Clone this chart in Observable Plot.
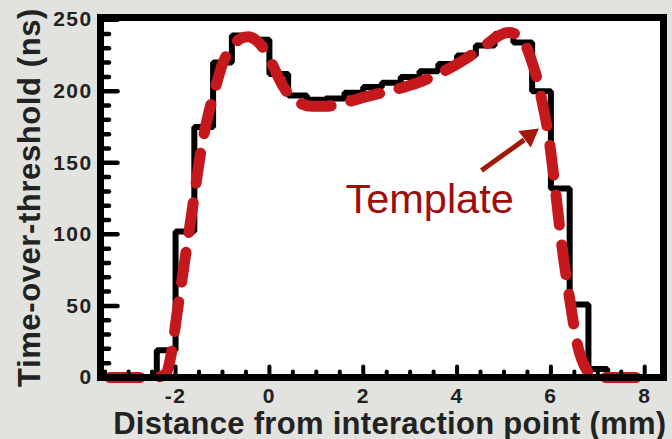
<!DOCTYPE html>
<html>
<head>
<meta charset="utf-8">
<script src="https://cdn.jsdelivr.net/npm/d3@7"></script>
<script src="https://cdn.jsdelivr.net/npm/@observablehq/plot@0.6"></script>
<style>
  html, body { margin: 0; padding: 0; background: #e2e2de; }
  #chart { width: 672px; height: 439px; }
  #chart svg { display: block; overflow: visible; }
  #chart g[aria-label="x-axis tick label"] text,
  #chart g[aria-label="y-axis tick label"] text { letter-spacing: 1.4px; }
</style>
</head>
<body>
<div id="chart"></div>
<script>
// Measured time-over-threshold, one value per 0.4 mm bin (left bin edges in mm)
const binLeft = [-2.4, -2.0, -1.6, -1.2, -0.8, -0.4, 0.0, 0.4, 0.8, 1.2, 1.6, 2.0,
                 2.4, 2.8, 3.2, 3.6, 4.0, 4.4, 4.8, 5.2, 5.6, 6.0, 6.4, 6.8];
const binTot  = [19, 102, 175, 220, 239, 236, 212, 197, 194, 195, 199, 203,
                 206, 210, 214, 219, 225, 232, 240, 234, 200, 132, 51, 6];
const binLastRight = 7.2;

// Template pulse shape (ns vs mm)
const templateX   = [-3.4, -2.6, -2.35, -2.2, -2.125, -1.95, -1.78, -1.61, -1.445, -1.3, -1.185, -1.0, -0.9,
                     -0.75, -0.6, -0.45, -0.3, -0.15, 0.0, 0.13, 0.3, 0.5, 0.7, 0.9, 1.2, 1.6, 2.04, 2.6,
                     3.17, 3.6, 4.2, 4.6, 4.9, 5.1, 5.3, 5.45, 5.58, 5.71, 5.83, 5.94, 6.085, 6.215, 6.385,
                     6.58, 6.75, 6.9, 7.05, 8.1];
const templateTot = [0, 0, 0.5, 3, 11, 49, 87, 125, 161, 184, 198, 219, 226,
                     233, 237, 238, 236, 231, 223, 214, 203, 195, 191, 189.5, 189.5, 192, 196, 200.5,
                     206, 212, 223, 232, 239, 241, 239, 233, 222, 208, 190, 171, 134, 97, 58,
                     21, 6, 1, 0, 0];

// Axis ticks
const xTicksMajor = [-2, 0, 2, 4, 6, 8];
const xTicksMinor = [-3.5, -3, -2.5, -1.5, -1, -0.5, 0.5, 1, 1.5, 2.5, 3, 3.5, 4.5, 5, 5.5, 6.5, 7, 7.5];
const yTicksMajor = [0, 50, 100, 150, 200, 250];
const yTicksMinor = [10, 20, 30, 40, 60, 70, 80, 90, 110, 120, 130, 140, 160, 170, 180, 190, 210, 220, 230, 240];

// Labels and annotation
const xTitle = "Distance from interaction point (mm)";
const yTitle = "Time-over-threshold (ns)";
const templateLabel = [{text: "Template", x: 1.62, tot: 115}];
const arrowTail = [{x: 4.52, tot: 144.6}];
const arrowBase = [{x: 5.43, tot: 166}];
const arrowHead = [{x: 5.54, tot: 169}];

const histogram = [{x: -3.6, tot: 0}]
  .concat(binLeft.map((x, i) => ({x, tot: binTot[i]})))
  .concat([{x: binLastRight, tot: 0}, {x: 8.4, tot: 0}]);
const template = templateX.map((x, i) => ({x, tot: templateTot[i]}));

const tickShape = {draw(context, l) { context.moveTo(0, 0); context.lineTo(0, -l); }};
const fontFamily = "Liberation Sans, Arial, Helvetica, sans-serif";
const ink = "#222";

const chart = Plot.plot({
  width: 672,
  height: 439,
  marginLeft: 100,
  marginRight: 9,
  marginTop: 17,
  marginBottom: 62,
  x: {domain: [-3.6, 8.4]},
  y: {domain: [0, 251.5]},
  style: {background: "transparent", fontFamily, color: ink},
  marks: [
    Plot.frame({fill: "white"}),
    Plot.line(histogram, {x: "x", y: "tot", curve: "step-after", stroke: "black", strokeWidth: 6, strokeLinejoin: "miter"}),
    Plot.line(template, {x: "x", y: "tot", curve: "monotone-x", stroke: "#c4181c", strokeWidth: 11, strokeDasharray: "30,20"}),
    // inward ticks on the bottom and left edges
    Plot.vector(xTicksMajor, {x: d => d, frameAnchor: "bottom", length: 11, anchor: "start", shape: tickShape, stroke: "black", strokeWidth: 4}),
    Plot.vector(xTicksMinor, {x: d => d, frameAnchor: "bottom", length: 6, anchor: "start", shape: tickShape, stroke: "black", strokeWidth: 4}),
    Plot.vector(yTicksMajor, {y: d => d, frameAnchor: "left", rotate: 90, length: 17, anchor: "start", shape: tickShape, stroke: "black", strokeWidth: 4.5}),
    Plot.vector(yTicksMinor, {y: d => d, frameAnchor: "left", rotate: 90, length: 8.5, anchor: "start", shape: tickShape, stroke: "black", strokeWidth: 4.5}),
    Plot.frame({stroke: "black", strokeWidth: 7}),
    Plot.axisX({ticks: xTicksMajor, tickSize: 0, tickPadding: 11, tickFormat: d => String(d), label: null,
                fontSize: 21, fontWeight: "bold", fontFamily}),
    Plot.axisY({ticks: yTicksMajor, tickSize: 0, tickPadding: 8, tickFormat: d => String(d), label: null,
                fontSize: 21, fontWeight: "bold", fontFamily}),
    Plot.text([xTitle], {frameAnchor: "bottom-right", textAnchor: "end", lineAnchor: "bottom", dx: 3, dy: 56,
                         fontSize: 31, fontWeight: "bold", fill: ink}),
    Plot.text([yTitle], {frameAnchor: "left", textAnchor: "middle", rotate: -90, lineAnchor: "bottom", dx: -61,
                         fontSize: 31, fontWeight: "bold", fill: ink}),
    Plot.text(templateLabel, {x: "x", y: "tot", text: "text", textAnchor: "start", lineAnchor: "bottom",
                              fontSize: 41.5, fill: "#9e0c0c"}),
    Plot.link(arrowTail, {x1: "x", y1: "tot", x2: () => arrowBase[0].x, y2: () => arrowBase[0].tot,
                          stroke: "#a3180a", strokeWidth: 5}),
    Plot.dot(arrowHead, {x: "x", y: "tot", symbol: "triangle", r: 7.7, rotate: 53, fill: "#a3180a", stroke: "none"})
  ]
});

// slightly looser tracking on the two axis titles
d3.select(chart).selectAll("text")
  .filter(function() { return this.textContent === xTitle; })
  .style("letter-spacing", "0.3px");
d3.select(chart).selectAll("text")
  .filter(function() { return this.textContent === yTitle; })
  .style("letter-spacing", "0.6px");

document.getElementById("chart").appendChild(chart);
</script>
</body>
</html>
